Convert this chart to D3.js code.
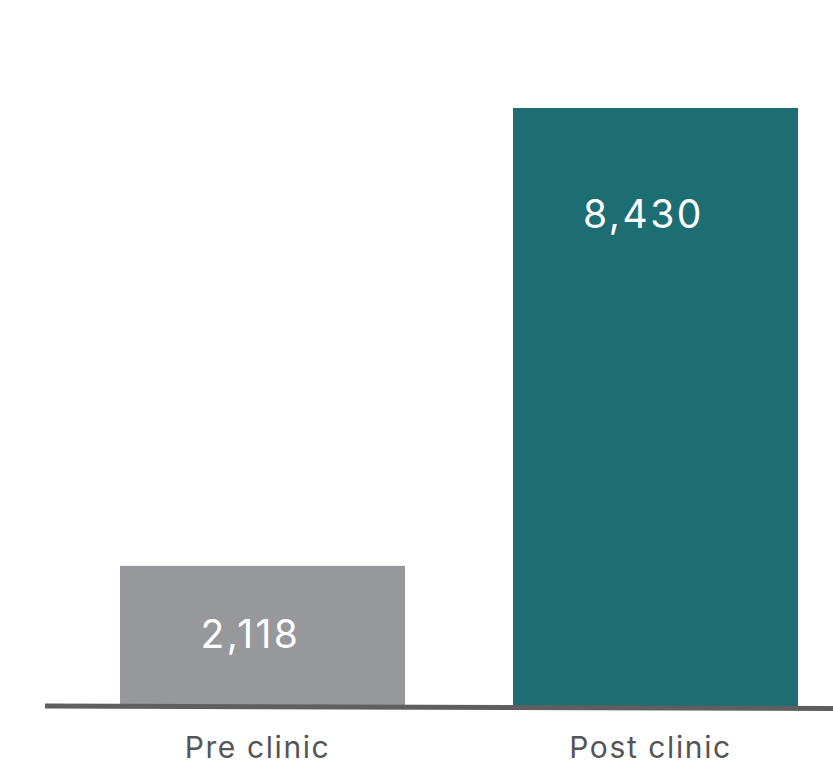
<!DOCTYPE html>
<html>
<head>
<meta charset="utf-8">
<script src="https://cdn.jsdelivr.net/npm/d3@7"></script>
<style>
  html, body { margin: 0; padding: 0; background: #ffffff; }
  svg { display: block; }
  text { font-family: Inter, "Noto Sans", sans-serif; }
</style>
</head>
<body>
<svg id="chart" width="833" height="765"></svg>
<script>
// Visits before and after the clinic
const categories = ["Pre clinic", "Post clinic"];
const values = [2118, 8430];
const barColors = ["#97989c", "#1c6e73"];

const width = 833, height = 765;
const baseY = 705;
const svg = d3.select("#chart");

const x = d3.scaleBand()
  .domain(categories)
  .range([120, 798])
  .paddingInner(0.2748)
  .paddingOuter(0);

const y = d3.scaleLinear()
  .domain([200, 8430])
  .range([baseY, 108]);

const data = categories.map((c, i) => ({ cat: c, value: values[i], color: barColors[i] }));

// Bars
svg.append("g").selectAll("rect")
  .data(data)
  .join("rect")
  .attr("x", d => x(d.cat))
  .attr("y", d => y(d.value))
  .attr("width", x.bandwidth())
  .attr("height", d => baseY + 1 - y(d.value))
  .attr("fill", d => d.color);

// Value labels inside bars
const fmt = d3.format(",");
svg.append("g").selectAll("text")
  .data(data)
  .join("text")
  .attr("x", d => x(d.cat) + x.bandwidth() / 2 - 12)
  .attr("y", d => {
    const top = y(d.value);
    const mid = (top + baseY) / 2;
    return Math.min(top + 107, mid) + 13;
  })
  .attr("text-anchor", "middle")
  .attr("fill", "#ffffff")
  .attr("font-size", 39)
  .attr("font-weight", 400)
  .attr("letter-spacing", 2.5)
  .text(d => fmt(d.value));

// Baseline
svg.append("line")
  .attr("x1", 45).attr("y1", 706)
  .attr("x2", 833).attr("y2", 708.5)
  .attr("stroke", "#5f5f5f")
  .attr("stroke-width", 5);

// Category axis labels
const xAxis = d3.axisBottom(x).tickSize(0).tickPadding(0);
const gx = svg.append("g")
  .attr("transform", `translate(-5, 758)`)
  .call(xAxis);
gx.select(".domain").remove();
gx.selectAll("text")
  .attr("dy", 0)
  .attr("fill", "#555555")
  .attr("font-size", 30)
  .attr("letter-spacing", 1.6)
  .style("font-family", "Inter, 'Noto Sans', sans-serif");
</script>
</body>
</html>
